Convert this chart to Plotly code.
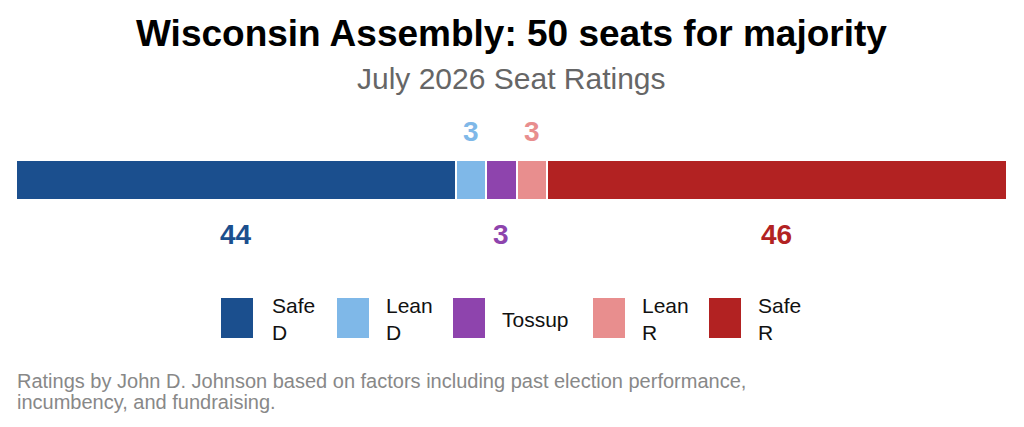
import plotly.graph_objects as go

categories = ["Safe D", "Lean D", "Tossup", "Lean R", "Safe R"]
legend_labels = ["Safe<br>D", "Lean<br>D", "Tossup", "Lean<br>R", "Safe<br>R"]
seats = [44, 3, 3, 3, 46]
colors = ["#1b4f8e", "#7fb8e8", "#8e44ad", "#e88e8e", "#b22222"]
label_pos = ["below", "above", "below", "above", "below"]
footnote_lines = [
    "Ratings by John D. Johnson based on factors including past election performance,",
    "incumbency, and fundraising.",
]

W, H = 1024, 427
ML, MR = 16, 17
PW = W - ML - MR
FONT = "Liberation Sans, Arial, sans-serif"


def px(x):
    return (x - ML) / PW


fig = go.Figure()
BAR_Y = 180
for cat, v, c in zip(categories, seats, colors):
    fig.add_trace(go.Bar(
        x=[v], y=[BAR_Y], orientation="h", width=40, name=cat,
        marker=dict(color=c, line=dict(color="white", width=2)),
        hoverinfo="x+name", showlegend=False,
    ))

# value labels
cum = 0
for v, c, pos in zip(seats, colors, label_pos):
    center = cum + v / 2
    cum += v
    fig.add_annotation(
        x=center, y=131 if pos == "above" else 234, xref="x", yref="y",
        text=f"<b>{v}</b>", showarrow=False,
        font=dict(family=FONT, size=28, color=c),
    )

# custom legend
leg_sq_x = [221, 337, 453, 593, 709]
leg_txt_x = [271, 385, 501, 641, 757]
for lab, c, sx, tx in zip(legend_labels, colors, leg_sq_x, leg_txt_x):
    fig.add_shape(type="rect", xref="paper", yref="y",
                  x0=px(sx), x1=px(sx + 32), y0=298, y1=338,
                  fillcolor=c, line=dict(width=0))
    fig.add_annotation(x=px(tx), y=319, xref="paper", yref="y",
                       text=lab, showarrow=False, xanchor="left",
                       align="left", borderpad=0,
                       font=dict(family=FONT, size=21, color="#111"))

fig.add_annotation(x=0.5, y=33, xref="paper", yref="y",
                   text="<b>Wisconsin Assembly: 50 seats for majority</b>",
                   showarrow=False, font=dict(family=FONT, size=37, color="#000"))
fig.add_annotation(x=0.5, y=78, xref="paper", yref="y",
                   text="July 2026 Seat Ratings", showarrow=False,
                   font=dict(family=FONT, size=30, color="#666"))
for t, yy in zip(footnote_lines, [381, 402]):
    fig.add_annotation(x=px(16), y=yy, xref="paper", yref="y", xanchor="left",
                       text=t, showarrow=False, borderpad=0,
                       font=dict(family=FONT, size=20, color="#888"))

fig.update_layout(
    width=W, height=H, barmode="stack",
    margin=dict(l=ML, r=MR, t=0, b=0),
    plot_bgcolor="white", paper_bgcolor="white",
    xaxis=dict(range=[0, sum(seats)], visible=False, fixedrange=True),
    yaxis=dict(range=[H, 0], visible=False, fixedrange=True),
    bargap=0,
)
fig.write_html("out.html")
